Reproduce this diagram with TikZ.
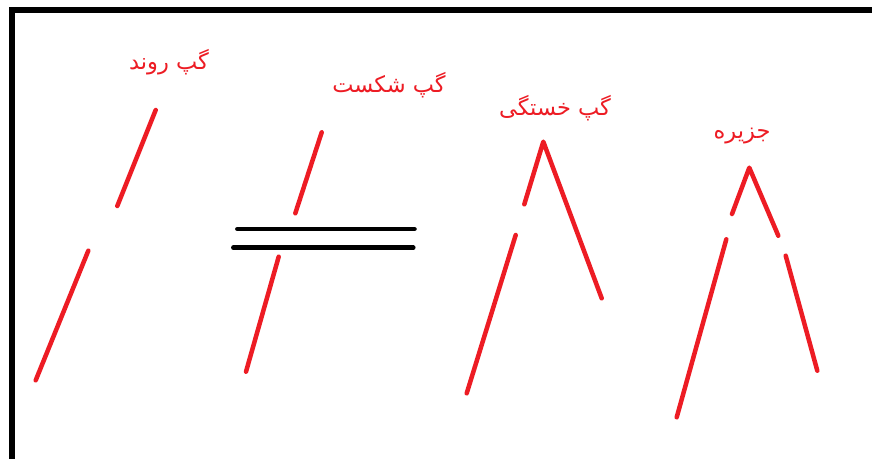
\documentclass[tikz,border=0pt]{standalone}
\usepackage{fontspec}
\newfontfamily\arabicfont[Script=Arabic]{DejaVu Sans}
\TeXXeTstate=1
\definecolor{pred}{RGB}{237,28,36}
\tikzset{
  redseg/.style={draw=pred, line width=4.5pt, line cap=round, line join=round},
  blackseg/.style={draw=black, line width=4.5pt, line cap=round},
  frameline/.style={draw=black, line width=5.5pt, line join=miter},
  lbl/.style={text=pred, font=\arabicfont\fontsize{22.5}{26}\selectfont, inner sep=0pt}
}
\begin{document}
\begin{tikzpicture}[x=1pt,y=-1pt]
\useasboundingbox (0,0) rectangle (872,458);
\fill[white] (0,0) rectangle (872,458);
% frame
\coordinate (fbl) at (12,470);
\coordinate (ftl) at (12,10);
\coordinate (ftr) at (880,10);
\draw[frameline] (fbl) -- (ftl) -- (ftr);
% labels
\node[lbl] (l1) at (169,62) {\beginR گپ روند\endR};
\node[lbl] (l2) at (389,85) {\beginR گپ شکست\endR};
\node[lbl] (l3) at (555,108) {\beginR گپ خستگی\endR};
\node[lbl] (l4) at (742,136) {\beginR جزیره\endR};
% figure 1: trend gap
\coordinate (a1) at (155.7,110);
\coordinate (a2) at (117.3,206);
\coordinate (a3) at (88.3,250.7);
\coordinate (a4) at (35.7,380.3);
\draw[redseg] (a1) -- (a2);
\draw[redseg] (a3) -- (a4);
% figure 2: breakaway gap
\coordinate (b1) at (321.7,132.3);
\coordinate (b2) at (295.3,213.3);
\coordinate (b3) at (278.7,256.7);
\coordinate (b4) at (246,371.7);
\draw[redseg] (b1) -- (b2);
\draw[redseg] (b3) -- (b4);
\coordinate (h1) at (237.3,229);
\coordinate (h2) at (414.5,229);
\coordinate (h3) at (233.3,247.7);
\coordinate (h4) at (413.3,247.7);
\draw[blackseg] (h1) -- (h2);
\draw[blackseg] (h3) -- (h4);
% figure 3: exhaustion gap
\coordinate (c0) at (543.3,141.7);
\coordinate (c1) at (524.3,204.3);
\coordinate (c2) at (601.7,298.3);
\coordinate (c3) at (515.7,235);
\coordinate (c4) at (466.7,393.3);
\draw[redseg] (c1) -- (c0) -- (c2);
\draw[redseg] (c3) -- (c4);
% figure 4: island
\coordinate (d0) at (749.3,167.7);
\coordinate (d1) at (732,214);
\coordinate (d2) at (778.3,235.7);
\coordinate (d3) at (726.3,239.3);
\coordinate (d4) at (676.7,417.3);
\coordinate (d5) at (785.7,255.7);
\coordinate (d6) at (817.3,370.7);
\draw[redseg] (d1) -- (d0) -- (d2);
\draw[redseg] (d3) -- (d4);
\draw[redseg] (d5) -- (d6);
\end{tikzpicture}
\end{document}
